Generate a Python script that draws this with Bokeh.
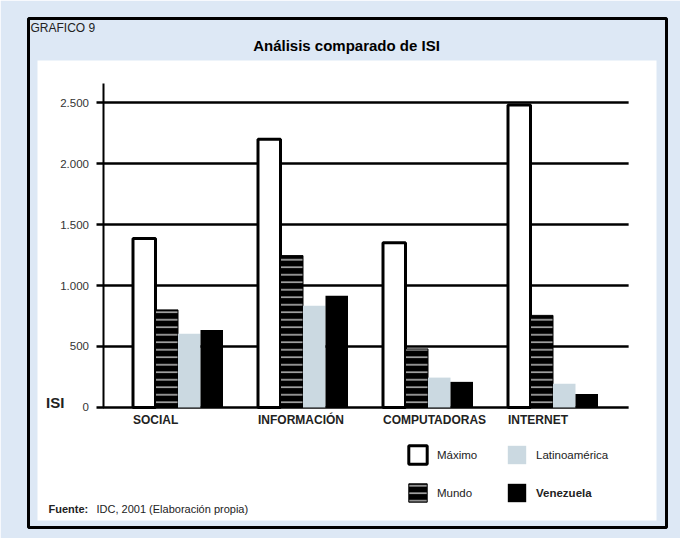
from bokeh.plotting import figure
from bokeh.models import (Range1d, FixedTicker, BoxAnnotation, Label, LabelSet,
                          ColumnDataSource, Legend, LegendItem)
from bokeh.transform import dodge
from bokeh.core.properties import value
from bokeh.embed import file_html
from bokeh.resources import INLINE

# ISI components, 2001
categories = ["SOCIAL", "INFORMACIÓN", "COMPUTADORAS", "INTERNET"]
maximo = [1385, 2200, 1350, 2480]
mundo = [800, 1245, 480, 755]
latinoamerica = [605, 835, 245, 195]
venezuela = [635, 915, 210, 110]
series_names = ["Máximo", "Mundo", "Latinoamérica", "Venezuela"]
y_ticks = [0, 500, 1000, 1500, 2000, 2500]
y_tick_labels = ["0", "500", "1.000", "1.500", "2.000", "2.500"]

FONT = "Liberation Sans"
BG = "#dde8f5"
LATAM = "#cbd9e1"
TEXT = "#222222"

BAR_W = 0.18
OFFSETS = [-0.27, -0.09, 0.09, 0.27]
AXIS_X = -0.6        # x position of the value axis
GRID_END = 3.605     # right end of the horizontal rules

source = ColumnDataSource(dict(
    pos=list(range(len(categories))), cat=categories,
    maximo=maximo, mundo=mundo, lat=latinoamerica, ven=venezuela,
))
grid_src = ColumnDataSource(dict(y=y_ticks))

p = figure(width=680, height=538, output_backend="svg", toolbar_location=None,
           x_range=Range1d(-1.196, 3.908), y_range=Range1d(-984, 3189),
           min_border_left=28, min_border_right=14,
           min_border_top=18, min_border_bottom=11, title=None)
p.border_fill_color = BG
p.background_fill_color = BG
p.outline_line_color = "black"
p.outline_line_width = 3
p.grid.visible = False
p.xaxis.visible = False

# white inner panel
p.add_layout(BoxAnnotation(left=9, right=628, top=467, bottom=7,
                           left_units="screen", right_units="screen",
                           top_units="screen", bottom_units="screen",
                           fill_color="white", fill_alpha=1, line_color=None,
                           level="underlay"))

# horizontal rules at every tick value
p.segment(x0=AXIS_X, x1=GRID_END, y0="y", y1="y", source=grid_src,
          line_color="black", line_width=2.5)

r_max = p.vbar(x=dodge("pos", OFFSETS[0]), top="maximo", width=BAR_W, source=source,
               fill_color="white", line_color="black", line_width=3)
r_mun = p.vbar(x=dodge("pos", OFFSETS[1]), top="mundo", width=BAR_W, source=source,
               fill_color="black", line_color="black", line_width=1,
               hatch_pattern="horizontal_line", hatch_color="#d9d9d9",
               hatch_scale=7.5, hatch_weight=1.3)
r_lat = p.vbar(x=dodge("pos", OFFSETS[2]), top="lat", width=BAR_W, source=source,
               fill_color=LATAM, line_color=None)
r_ven = p.vbar(x=dodge("pos", OFFSETS[3]), top="ven", width=BAR_W, source=source,
               fill_color="black", line_color=None)

# value axis
ax = p.yaxis[0]
ax.fixed_location = AXIS_X
ax.bounds = (0, 2655)
ax.ticker = FixedTicker(ticks=y_ticks)
ax.major_label_overrides = dict(zip(y_ticks, y_tick_labels))
ax.axis_line_color = "black"
ax.axis_line_width = 2
ax.major_tick_in = 0
ax.major_tick_out = 7
ax.major_tick_line_width = 2.5
ax.minor_tick_in = 0
ax.minor_tick_out = 0
ax.major_label_standoff = 7
ax.major_label_text_font = FONT
ax.major_label_text_font_size = "11.5px"
ax.major_label_text_color = "#333333"

# category names, left-aligned with the first bar of each group
p.add_layout(LabelSet(x=dodge("pos", OFFSETS[0] - BAR_W / 2), y=0, text="cat",
                      source=source, y_offset=-13, text_align="left",
                      text_baseline="middle", text_font=value(FONT),
                      text_font_size="12px", text_font_style="bold",
                      text_color=TEXT))

p.add_layout(Label(x=AXIS_X, y=0, x_offset=-57, y_offset=5, text="ISI",
                   text_align="left", text_baseline="middle", text_font=FONT,
                   text_font_size="15px", text_font_style="bold", text_color=TEXT))

# headings and source note
p.add_layout(Label(x=2, y=500, x_units="screen", y_units="screen", text="GRAFICO 9",
                   text_align="left", text_baseline="middle", text_font=FONT,
                   text_font_size="12px", text_color=TEXT))
p.add_layout(Label(x=318, y=482, x_units="screen", y_units="screen",
                   text="Análisis comparado de ISI", text_align="center",
                   text_baseline="middle", text_font=FONT,
                   text_font_size="15px", text_font_style="bold", text_color="black"))
p.add_layout(Label(x=20, y=19, x_units="screen", y_units="screen", text="Fuente:",
                   text_align="left", text_baseline="middle", text_font=FONT,
                   text_font_size="11px", text_font_style="bold", text_color=TEXT))
p.add_layout(Label(x=68, y=19, x_units="screen", y_units="screen",
                   text="IDC, 2001 (Elaboración propia)", text_align="left",
                   text_baseline="middle", text_font=FONT,
                   text_font_size="11px", text_color=TEXT))

# legend: two columns of two entries
legend_spec = [
    (r_max, series_names[0], (378, 61), "normal"),
    (r_mun, series_names[1], (378, 23), "normal"),
    (r_lat, series_names[2], (477, 61), "normal"),
    (r_ven, series_names[3], (477, 23), "bold"),
]
for rend, name, loc, style in legend_spec:
    leg = Legend(items=[LegendItem(label=value(name), renderers=[rend])],
                 location=loc, padding=0, margin=0, spacing=0,
                 border_line_color=None, background_fill_alpha=0,
                 glyph_width=23, glyph_height=23, label_height=23,
                 label_standoff=8, label_text_font=FONT,
                 label_text_font_size="11.5px", label_text_font_style=style,
                 label_text_color=TEXT)
    p.add_layout(leg)

open("out.html", "w").write(file_html(p, INLINE))
